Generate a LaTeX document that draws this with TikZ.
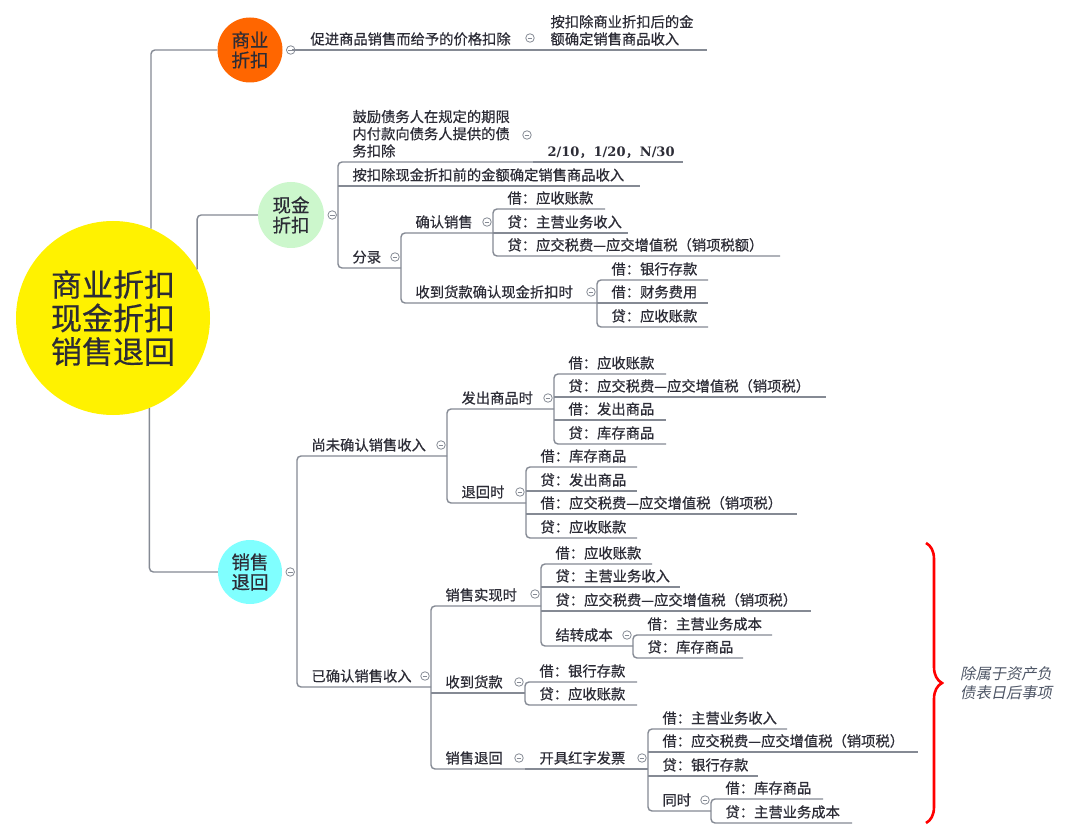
\documentclass[tikz,border=0pt]{standalone}
\usepackage{fontspec}
\setmainfont{Noto Sans CJK SC}[FakeBold=0.5]
\newfontfamily\cjkit[FakeSlant=0.2]{Noto Sans CJK SC}
\newfontfamily\numf{DejaVu Serif}
\usetikzlibrary{decorations.pathreplacing,calc}
\definecolor{linec}{HTML}{858A94}
\definecolor{txtc}{HTML}{2C2C36}
\definecolor{orangec}{HTML}{FF6600}
\definecolor{greenc}{HTML}{CCF7CC}
\definecolor{cyanc}{HTML}{80FFFF}
\definecolor{notec}{HTML}{4E5666}
\newcommand\fs{\fontsize{14.3}{17}\selectfont}
\newcommand\nf[1]{{\numf\bfseries\fontsize{13}{15}\selectfont #1}}
% #1 name, #2 spine x, #3 line y, #4 line end x, #5 text
\newcommand\mtopic[5]{\node[topic] (#1) at (#2,#3) {\makebox[\dimexpr#4pt-#2pt\relax][l]{\hspace*{14.5pt}#5}};}
\begin{document}
\begin{tikzpicture}[x=1pt,y=-1pt,
  conn/.style={draw=linec, line width=1.4pt, rounded corners=4pt},
  topic/.style={anchor=south west, inner sep=0pt, outer sep=0pt, text depth=5.6pt, font=\fs, text=txtc},
  tog/.style={circle, draw=linec, fill=white, line width=0.8pt, minimum size=8.5pt, inner sep=0pt,
    path picture={\draw[linec, line width=0.8pt] ([xshift=-2.3pt]path picture bounding box.center) -- ([xshift=2.3pt]path picture bounding box.center);}},
  hub/.style={circle, inner sep=0pt, minimum size=#1, align=center, text=txtc}
]
\useasboundingbox (0,0) rectangle (1080,837);
\fill[white] (0,0) rectangle (1080,837);

% central node
\node[hub=194pt, fill=yellow, font=\fontsize{31}{33.5}\selectfont] (main) at (113,318) {商业折扣\\现金折扣\\销售退回};

% first level hubs
\node[hub=65pt, fill=orangec, font=\fontsize{18.5}{20}\selectfont] (sy) at (250,50) {商业\\折扣};
\node[hub=66pt, fill=greenc, font=\fontsize{18.5}{20}\selectfont] (xj) at (291,215) {现金\\折扣};
\node[hub=64pt, fill=cyanc, font=\fontsize{18.5}{20}\selectfont] (th) at (250,572) {销售\\退回};

\draw[conn] (main.67.6) -- (main.67.6 |- sy.west) -- (sy.west);
\draw[conn] (main.30) -- (main.30 |- xj.west) -- (xj.west);
\draw[conn] (main.292.4) -- (main.292.4 |- th.west) -- (th.west);

% ---------- 商业折扣 ----------
\node[tog] (t-sy) at ([xshift=8pt]sy.east) {};
\mtopic{A1}{296}{50}{536}{促进商品销售而给予的价格扣除}
\mtopic{A2}{536}{50}{707}{\begin{tabular}[b]{@{}l@{}}按扣除商业折扣后的金\\额确定销售商品收入\end{tabular}}
\draw[conn] (t-sy.east) -- (A1.south west) -- (A1.south east);
\draw[conn] (A2.south west) -- (A2.south east);
\node[tog] (t-A1) at ([xshift=-6pt,yshift=12pt]A1.south east) {};

% ---------- 现金折扣 ----------
\node[tog] (t-xj) at ([xshift=8pt]xj.east) {};
\mtopic{B1}{338}{162}{533}{\begin{tabular}[b]{@{}l@{}}鼓励债务人在规定的期限\\内付款向债务人提供的债\\务扣除\end{tabular}}
\mtopic{B1a}{533}{162}{683}{\nf{2/10}，\nf{1/20}，\nf{N/30}}
\mtopic{B2}{338}{186}{640}{按扣除现金折扣前的金额确定销售商品收入}
\mtopic{B3}{338}{268}{401}{分录}
\mtopic{B31}{401}{233}{493}{确认销售}
\mtopic{B311}{493}{209}{605}{借：应收账款}
\mtopic{B312}{493}{233}{628}{贷：主营业务收入}
\mtopic{B313}{493}{256}{780}{贷：应交税费—应交增值税（销项税额）}
\mtopic{B32}{401}{303}{597}{收到货款确认现金折扣时}
\mtopic{B321}{597}{280}{708}{借：银行存款}
\mtopic{B322}{597}{303}{708}{借：财务费用}
\mtopic{B323}{597}{327}{708}{贷：应收账款}

\draw[conn] (B1.south east) -- (B1.south west) -- (B3.south west) -- (B3.south east);
\draw[conn] (B2.south west) -- (B2.south east);
\draw[conn] (B1a.south west) -- (B1a.south east);
\draw[conn] (B31.south east) -- (B31.south west) -- (B32.south west) -- (B32.south east);
\draw[conn] (B311.south east) -- (B311.south west) -- (B313.south west) -- (B313.south east);
\draw[conn] (B312.south west) -- (B312.south east);
\draw[conn] (B321.south east) -- (B321.south west) -- (B323.south west) -- (B323.south east);
\draw[conn] (B322.south west) -- (B322.south east);
\node[tog] (t-B1) at ([xshift=-6pt,yshift=27pt]B1.south east) {};
\node[tog] (t-B3) at ([xshift=-6pt,yshift=11pt]B3.south east) {};
\node[tog] (t-B31) at ([xshift=-6pt,yshift=11pt]B31.south east) {};
\node[tog] (t-B32) at ([xshift=-6pt,yshift=11pt]B32.south east) {};

% ---------- 销售退回 ----------
\node[tog] (t-th) at ([xshift=8pt]th.east) {};
\mtopic{C1}{297}{456}{447}{尚未确认销售收入}
\mtopic{C11}{447}{409}{554}{发出商品时}
\mtopic{C111}{554}{374}{666}{借：应收账款}
\mtopic{C112}{554}{397}{826}{贷：应交税费—应交增值税（销项税）}
\mtopic{C113}{554}{420}{666}{借：发出商品}
\mtopic{C114}{554}{444}{666}{贷：库存商品}
\mtopic{C12}{447}{503}{526}{退回时}
\mtopic{C121}{526}{467}{637}{借：库存商品}
\mtopic{C122}{526}{491}{637}{贷：发出商品}
\mtopic{C123}{526}{514}{797}{借：应交税费—应交增值税（销项税）}
\mtopic{C124}{526}{538}{637}{贷：应收账款}
\mtopic{C2}{297}{687}{431}{已确认销售收入}
\mtopic{C21}{431}{606}{541}{销售实现时}
\mtopic{C211}{541}{564}{652}{借：应收账款}
\mtopic{C212}{541}{587}{680}{贷：主营业务收入}
\mtopic{C213}{541}{611}{811}{贷：应交税费—应交增值税（销项税）}
\mtopic{C214}{541}{646}{633}{结转成本}
\mtopic{C2141}{633}{635}{772}{借：主营业务成本}
\mtopic{C2142}{633}{658}{743}{贷：库存商品}
\mtopic{C22}{431}{693}{525}{收到货款}
\mtopic{C221}{525}{682}{637}{借：银行存款}
\mtopic{C222}{525}{705}{637}{贷：应收账款}
\mtopic{C23}{431}{769}{525}{销售退回}
\mtopic{C231}{525}{769}{648}{开具红字发票}
\mtopic{C2311}{648}{729}{787}{借：主营业务收入}
\mtopic{C2312}{648}{752}{918}{借：应交税费—应交增值税（销项税）}
\mtopic{C2313}{648}{776}{758}{贷：银行存款}
\mtopic{C2314}{648}{811}{711}{同时}
\mtopic{C23141}{711}{799}{823}{借：库存商品}
\mtopic{C23142}{711}{823}{852}{贷：主营业务成本}

\draw[conn] (C1.south east) -- (C1.south west) -- (C2.south west) -- (C2.south east);
\draw[conn] (C11.south east) -- (C11.south west) -- (C12.south west) -- (C12.south east);
\draw[conn] (C111.south east) -- (C111.south west) -- (C114.south west) -- (C114.south east);
\draw[conn] (C112.south west) -- (C112.south east);
\draw[conn] (C113.south west) -- (C113.south east);
\draw[conn] (C121.south east) -- (C121.south west) -- (C124.south west) -- (C124.south east);
\draw[conn] (C122.south west) -- (C122.south east);
\draw[conn] (C123.south west) -- (C123.south east);
\draw[conn] (C21.south east) -- (C21.south west) -- (C23.south west) -- (C23.south east);
\draw[conn] (C22.south west) -- (C22.south east);
\draw[conn] (C211.south east) -- (C211.south west) -- (C214.south west) -- (C214.south east);
\draw[conn] (C212.south west) -- (C212.south east);
\draw[conn] (C213.south west) -- (C213.south east);
\draw[conn] (C2141.south east) -- (C2141.south west) -- (C2142.south west) -- (C2142.south east);
\draw[conn] (C221.south east) -- (C221.south west) -- (C222.south west) -- (C222.south east);
\draw[conn] (C231.south west) -- (C231.south east);
\draw[conn] (C2311.south east) -- (C2311.south west) -- (C2314.south west) -- (C2314.south east);
\draw[conn] (C2312.south west) -- (C2312.south east);
\draw[conn] (C2313.south west) -- (C2313.south east);
\draw[conn] (C23141.south east) -- (C23141.south west) -- (C23142.south west) -- (C23142.south east);

\node[tog] (t-C1) at ([xshift=-6pt,yshift=11pt]C1.south east) {};
\node[tog] (t-C11) at ([xshift=-6pt,yshift=11pt]C11.south east) {};
\node[tog] (t-C12) at ([xshift=-6pt,yshift=11pt]C12.south east) {};
\node[tog] (t-C2) at ([xshift=-6pt,yshift=11pt]C2.south east) {};
\node[tog] (t-C21) at ([xshift=-6pt,yshift=12pt]C21.south east) {};
\node[tog] (t-C214) at ([xshift=-6pt,yshift=11pt]C214.south east) {};
\node[tog] (t-C22) at ([xshift=-6pt,yshift=11pt]C22.south east) {};
\node[tog] (t-C23) at ([xshift=-6pt,yshift=11pt]C23.south east) {};
\node[tog] (t-C231) at ([xshift=-6pt,yshift=11pt]C231.south east) {};
\node[tog] (t-C2314) at ([xshift=-6pt,yshift=11pt]C2314.south east) {};

% ---------- brace and note ----------
\coordinate (br1) at (926,543);
\coordinate (br2) at (926,823);
\draw[red, line width=2.6pt, decorate, decoration={brace, amplitude=16pt}] (br1) -- (br2);
\node[anchor=west, inner sep=0pt, align=left, text=notec, font=\cjkit\fontsize{15.3}{19}\selectfont] (note) at (960,683) {除属于资产负\\债表日后事项};
\end{tikzpicture}
\end{document}
